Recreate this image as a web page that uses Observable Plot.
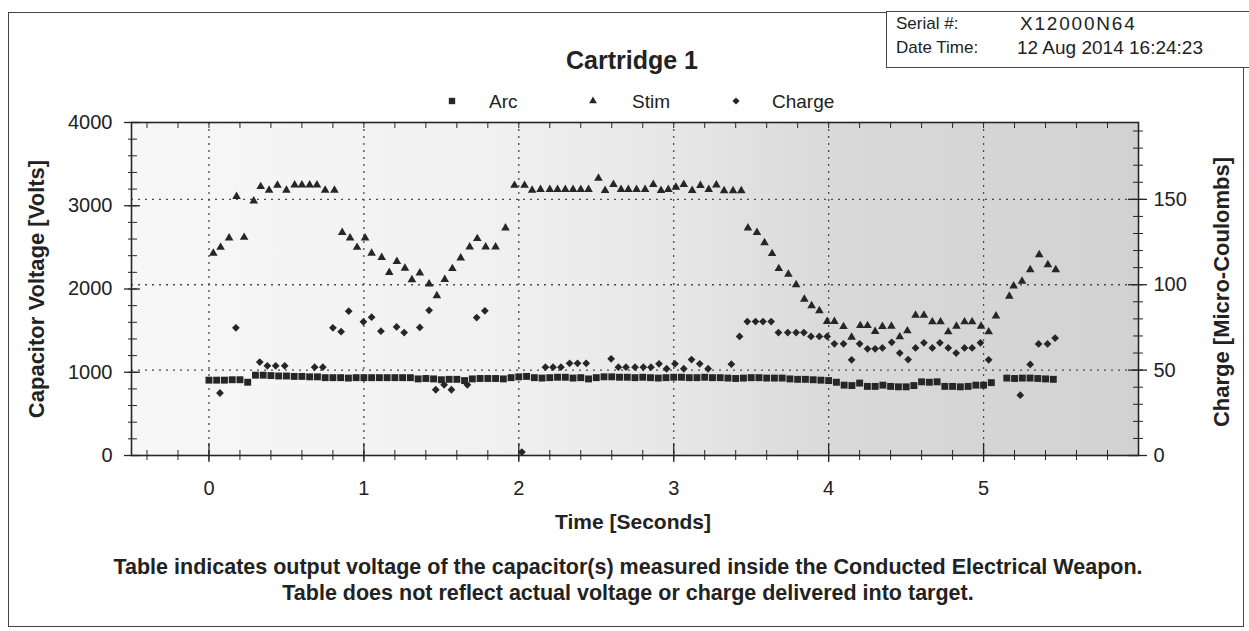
<!DOCTYPE html>
<html><head><meta charset="utf-8">
<script src="https://cdn.jsdelivr.net/npm/d3@7"></script>
<script src="https://cdn.jsdelivr.net/npm/@observablehq/plot@0.6"></script>
<style>
body{margin:0;background:#fff;font-family:"Liberation Sans",Arial,sans-serif;color:#222}
#wrap{position:relative;width:1249px;height:631px;overflow:hidden;background:#fff}
.abs{position:absolute;white-space:nowrap;line-height:1}
.c{transform:translate(-50%,-50%)}
.rot{transform:translate(-50%,-50%) rotate(-90deg);font-weight:bold;font-size:22px}
#chart{position:absolute;left:0;top:0}
</style></head><body><div id="wrap">
<div class="abs" style="left:8px;top:12px;width:1234px;height:613px;border:1.5px solid #444"></div>
<div class="abs" style="left:886px;top:11px;width:370px;height:55px;border:1.5px solid #444;background:#fff"></div>
<div id="chart"></div>
<div class="abs" style="left:896px;top:15px;font-size:17px">Serial #:</div>
<div class="abs" style="left:1020px;top:14px;font-size:19px;letter-spacing:1.8px">X12000N64</div>
<div class="abs" style="left:896px;top:39px;font-size:17px">Date Time:</div>
<div class="abs" style="left:1017px;top:38px;font-size:19px">12 Aug 2014 16:24:23</div>
<div class="abs c" style="left:632px;top:60px;font-size:25px;font-weight:bold">Cartridge 1</div>
<div id="legend" class="abs" style="left:0;top:0"></div>
<div class="abs rot" style="left:37px;top:289px">Capacitor Voltage [Volts]</div>
<div class="abs rot" style="left:1222px;top:292px">Charge [Micro-Coulombs]</div>
<div class="abs c" style="left:633px;top:521px;font-size:21px;font-weight:bold">Time [Seconds]</div>
<div class="abs c" id="note1" style="left:628px;top:568px;font-size:21.5px;font-weight:bold"></div>
<div class="abs c" id="note2" style="left:628px;top:594px;font-size:21.5px;font-weight:bold"></div>
</div>
<script>
// ---- data ----
const seriesNames = ["Arc", "Stim", "Charge"];
const noteLines = [
  "Table indicates output voltage of the capacitor(s) measured inside the Conducted Electrical Weapon.",
  "Table does not reflect actual voltage or charge delivered into target."
];
const xTicks = [0, 1, 2, 3, 4, 5];
const leftTicks = [0, 1000, 2000, 3000, 4000];
const rightTicks = [0, 50, 100, 150];

const arcT = [0.00,0.05,0.10,0.15,0.20,0.25,0.30,0.35,0.40,0.45,0.50,0.55,0.60,0.65,0.70,0.75,0.80,0.85,0.90,0.95,
  1.00,1.05,1.10,1.15,1.20,1.25,1.30,1.35,1.40,1.45,1.50,1.55,1.60,1.65,1.70,1.75,1.80,1.85,1.90,1.95,
  2.00,2.05,2.10,2.15,2.20,2.25,2.30,2.35,2.40,2.45,2.50,2.55,2.60,2.65,2.70,2.75,2.80,2.85,2.90,2.95,
  3.00,3.05,3.10,3.15,3.20,3.25,3.30,3.35,3.40,3.45,3.50,3.55,3.60,3.65,3.70,3.75,3.80,3.85,3.90,3.95,
  4.00,4.05,4.10,4.15,4.20,4.25,4.30,4.35,4.40,4.45,4.50,4.55,4.60,4.65,4.70,4.75,4.80,4.85,4.90,4.95,
  5.00,5.05,5.15,5.20,5.25,5.30,5.35,5.40,5.45];
const arcV = [905,905,905,910,910,880,965,965,960,955,955,950,950,945,945,935,935,935,930,935,
  935,935,935,935,935,935,935,920,925,920,910,915,915,900,920,925,925,925,920,935,
  945,950,935,930,935,940,940,930,935,920,935,945,945,940,940,935,940,935,930,935,
  940,940,935,935,940,935,935,930,925,930,935,935,930,930,930,920,915,915,910,905,
  900,880,845,840,870,830,830,845,830,825,825,840,885,880,885,830,830,825,830,845,
  845,875,930,925,930,930,925,920,915];

const stimT = [0.028,0.075,0.13,0.178,0.227,0.289,0.334,0.388,0.442,0.50,0.553,0.60,0.65,0.697,0.75,0.81,0.86,0.911,0.956,1.008,
  1.05,1.115,1.164,1.213,1.265,1.31,1.361,1.421,1.471,1.522,1.571,1.625,1.683,1.732,1.786,1.85,1.914,1.972,2.037,2.086,
  2.14,2.20,2.25,2.30,2.35,2.40,2.45,2.514,2.557,2.611,2.66,2.707,2.76,2.815,2.868,2.918,2.965,3.014,3.065,3.119,
  3.172,3.226,3.275,3.325,3.383,3.436,3.479,3.537,3.586,3.635,3.678,3.74,3.79,3.843,3.89,3.94,3.99,4.037,4.096,4.148,
  4.204,4.251,4.30,4.347,4.405,4.459,4.508,4.561,4.615,4.669,4.722,4.772,4.825,4.877,4.926,4.984,5.033,5.08,5.166,5.194,
  5.248,5.301,5.359,5.415,5.466];
const stimV = [2430,2500,2612,3110,2620,3058,3230,3187,3247,3187,3250,3250,3250,3250,3187,3187,2680,2612,2500,2612,
  2430,2378,2199,2330,2250,2112,2192,2060,1920,2113,2245,2373,2505,2605,2505,2505,2733,3245,3245,3185,
  3195,3195,3195,3195,3195,3195,3195,3330,3183,3255,3195,3195,3195,3195,3255,3183,3195,3223,3255,3183,
  3243,3195,3250,3180,3180,3180,2733,2680,2555,2425,2245,2178,2050,1878,1798,1738,1610,1610,1548,1420,
  1560,1560,1490,1550,1553,1425,1497,1685,1685,1605,1605,1485,1553,1605,1605,1553,1485,1677,1912,2036,
  2092,2232,2412,2292,2232];

const chargeT = [0.071,0.174,0.328,0.377,0.431,0.489,0.682,0.735,0.80,0.853,0.902,0.997,1.05,1.11,1.211,1.26,1.361,1.421,1.464,1.518,
  1.565,1.668,1.728,1.781,2.02,2.172,2.221,2.272,2.328,2.379,2.435,2.596,2.643,2.692,2.75,2.804,2.853,2.905,2.954,3.008,
  3.065,3.115,3.168,3.222,3.372,3.425,3.475,3.528,3.576,3.629,3.676,3.736,3.79,3.84,3.886,3.94,3.99,4.037,4.096,4.148,
  4.20,4.251,4.30,4.347,4.407,4.459,4.513,4.561,4.615,4.669,4.718,4.772,4.823,4.877,4.926,4.98,5.033,5.237,5.301,5.355,
  5.413,5.462];
const chargeC = [36.6,74.8,54.7,52.5,52.5,52.5,51.7,51.7,74.8,72.5,84.5,78.3,81,72.8,75.3,72,75,85,38.5,41.4,
  38.5,41.4,80.8,84.7,2,51.7,51.7,51.7,54,54,54,56.6,51.7,51.7,51.7,51.7,51.7,53.7,50.8,53.7,
  50.8,56.2,53.7,50.8,53.5,69.7,78.4,78.4,78.4,78.4,72,72,72,72,69.7,69.7,69.7,65.4,65.4,56,
  65.4,62.5,62.5,63,66.3,60,56.2,63,66,63,66,63,60,63,63,66,56,35.3,53.3,65.3,
  65.3,68.8];

// ---- build ----
const voltMax = 4000, chargeMax = 195;
const k = voltMax / chargeMax; // µC -> volt-axis units
const arc = arcT.map((t, i) => ({t, v: arcV[i]}));
const stim = stimT.map((t, i) => ({t, v: stimV[i]}));
const charge = chargeT.map((t, i) => ({t, v: chargeC[i] * k}));

const W = 1249, H = 540, mL = 131, mR = 111, mT = 122, mB = 85;
const pw = W - mL - mR, ph = H - mT - mB;
const leftMinor = d3.range(0, voltMax + 1, 200);
const rightMinor = d3.range(0, chargeMax, 10).map(c => c * k);
const xMinor = d3.range(-0.4, 5.95, 0.2);
const ink = "#262626";
const grid = {stroke: "#4a4a4a", strokeDasharray: "2,5", strokeWidth: 1.3};

const plot = Plot.plot({
  width: W, height: H,
  marginLeft: mL, marginRight: mR, marginTop: mT, marginBottom: mB,
  style: {fontFamily: "Liberation Sans, Arial, sans-serif", fontSize: "20px", color: "#222", background: "transparent", overflow: "visible"},
  x: {domain: [-0.5, 6]},
  y: {domain: [0, voltMax]},
  marks: [
    Plot.frame({fill: "url(#bgGrad)", stroke: "none"}),
    Plot.ruleX(xTicks, grid),
    Plot.ruleY(rightTicks.filter(d => d > 0).map(d => d * k), grid),
    Plot.dot(arc, {x: "t", y: "v", symbol: "square", r: 3.9, fill: ink, stroke: "none"}),
    Plot.dot(stim, {x: "t", y: "v", symbol: "triangle", r: 3.2, fill: ink, stroke: "none"}),
    Plot.dot(charge, {x: "t", y: "v", symbol: "diamond2", r: 3.5, fill: ink, stroke: "none"}),
    // tick marks
    Plot.ruleY(leftMinor, {stroke: ink, insetRight: pw - 9, dx: -3}),
    Plot.ruleY(leftTicks, {stroke: ink, strokeWidth: 1.3, insetRight: pw - 16, dx: -7}),
    Plot.ruleY(rightMinor, {stroke: ink, insetLeft: pw - 10, dx: 5}),
    Plot.ruleY(rightTicks.map(d => d * k), {stroke: ink, strokeWidth: 1.3, insetLeft: pw - 19, dx: 9}),
    Plot.ruleX(xMinor, {stroke: ink, insetTop: ph - 10, dy: 5}),
    Plot.ruleX(xTicks, {stroke: ink, strokeWidth: 1.3, insetTop: ph - 19, dy: 7}),
    Plot.ruleX(xMinor, {stroke: ink, insetBottom: ph - 6}),
    Plot.frame({stroke: ink, strokeWidth: 1.6}),
    // axes
    Plot.axisX(xTicks, {tickSize: 0, tickPadding: 25, label: null, tickFormat: d => String(d), fontSize: 20}),
    Plot.axisY(leftTicks, {anchor: "left", tickSize: 0, tickPadding: 19, label: null, tickFormat: d => String(d), fontSize: 20}),
    Plot.axisY(rightTicks.map(d => d * k), {anchor: "right", tickSize: 0, tickPadding: 15, label: null, tickFormat: d => String(Math.round(d / k)), fontSize: 20})
  ]
});
d3.select(plot).insert("defs", ":first-child").html(
  `<linearGradient id="bgGrad" x1="0" x2="1" y1="0" y2="0">
     <stop offset="0" stop-color="#f7f7f7"/>
     <stop offset="0.35" stop-color="#f1f1f1"/>
     <stop offset="0.55" stop-color="#e6e6e6"/>
     <stop offset="0.7" stop-color="#d9d9d9"/>
     <stop offset="1" stop-color="#d2d2d2"/>
   </linearGradient>`);
document.getElementById("chart").appendChild(plot);

// legend
const legendPos = [{mx: 452, tx: 489, sym: d3.symbolSquare, r: 3.6}, {mx: 593, tx: 632, sym: d3.symbolTriangle, r: 2.9}, {mx: 736, tx: 772, sym: d3.symbolDiamond2, r: 3.2}];
const lg = d3.select("#legend").append("svg").attr("width", W).attr("height", 120).style("overflow", "visible");
seriesNames.forEach((name, i) => {
  const p = legendPos[i];
  lg.append("path").attr("d", d3.symbol(p.sym, p.r * p.r * Math.PI)()).attr("transform", `translate(${p.mx},101)`).attr("fill", ink);
  lg.append("text").attr("x", p.tx).attr("y", 108).attr("font-size", 19).attr("font-family", "Liberation Sans, Arial, sans-serif").attr("fill", "#222").text(name);
});
document.getElementById("note1").textContent = noteLines[0];
document.getElementById("note2").textContent = noteLines[1];
</script>
</body></html>
